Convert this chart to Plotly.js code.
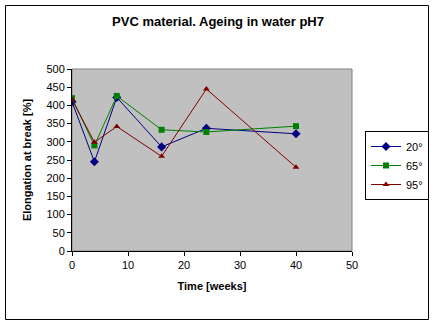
<!DOCTYPE html>
<html><head><meta charset="utf-8">
<script src="https://cdn.plot.ly/plotly-3.0.1.min.js"></script>
<style>html,body{margin:0;padding:0;background:#fff}#c{width:435px;height:325px}</style>
</head><body><div id="c"></div>
<script>
const weeks = [0, 4, 8, 16, 24, 40];
const s20 = [410, 245, 422, 286, 337, 322];
const s65 = [420, 290, 426, 333, 327, 343];
const s95 = [416, 299, 342, 260, 445, 230];
const names = ['20°', '65°', '95°'];
const colors = ['#000080', '#008000', '#800000'];
const symbols = ['diamond', 'square', 'triangle-up'];
const series = [s20, s65, s95];
const F = 'Liberation Sans, Arial, sans-serif';

const traces = series.map((s, i) => ({
  x: weeks, y: s, name: names[i], type: 'scatter', mode: 'lines+markers',
  line: {color: colors[i], width: 1},
  marker: {color: colors[i], symbol: symbols[i], size: symbols[i]==='diamond'?7:6}
}));

const L = 72, R = 352, T = 69, B = 251, W = 435, H = 325;
const pw = R - L, ph = B - T;
const px = v => (v - L) / pw, py = v => (B - v) / ph;

const layout = {
  width: W, height: H,
  margin: {l: L, r: W - R, t: T, b: H - B, pad: 0, autoexpand: false},
  paper_bgcolor: '#ffffff', plot_bgcolor: '#c0c0c0',
  font: {family: F, size: 11, color: '#000'},
  title: {text: 'PVC material. Ageing in water pH7', font: {family: F, size: 13, weight: 'bold', color: '#000'},
          x: 218 / W, xanchor: 'center', y: 1 - 21 / H, yanchor: 'middle'},
  xaxis: {range: [0, 50], dtick: 10, showgrid: false, zeroline: false, showline: true, linecolor: '#000', linewidth: 1,
          ticks: 'outside', ticklen: 4, tickcolor: '#000', tickfont: {family: F, size: 11},
          title: {text: 'Time [weeks]', font: {family: F, size: 11, weight: 'bold'}, standoff: 12}},
  yaxis: {range: [0, 500], dtick: 50, showgrid: false, zeroline: false, showline: true, linecolor: '#000', linewidth: 1,
          ticks: 'outside', ticklen: 4, tickcolor: '#000', tickfont: {family: F, size: 11},
          title: {text: 'Elongation at break [%]', font: {family: F, size: 11, weight: 'bold'}, standoff: 12}},
  showlegend: true,
  legend: {xref: 'container', yref: 'container', x: 365 / W, y: 1 - 131 / H, xanchor: 'left', yanchor: 'top',
           bgcolor: '#fff', bordercolor: '#000', borderwidth: 1,
           font: {family: F, size: 11}, tracegroupgap: 0, itemwidth: 30},
  shapes: [
    {type: 'rect', xref: 'paper', yref: 'paper', x0: 0, x1: 1, y0: 0, y1: 1, line: {color: '#808080', width: 1}, layer: 'below'},
    {type: 'rect', xref: 'paper', yref: 'paper', x0: px(5.5), x1: px(428.5), y0: py(5.5), y1: py(319.5), line: {color: '#000', width: 1}}
  ]
};
Plotly.newPlot('c', traces, layout, {displayModeBar: false, staticPlot: true});
</script></body></html>
